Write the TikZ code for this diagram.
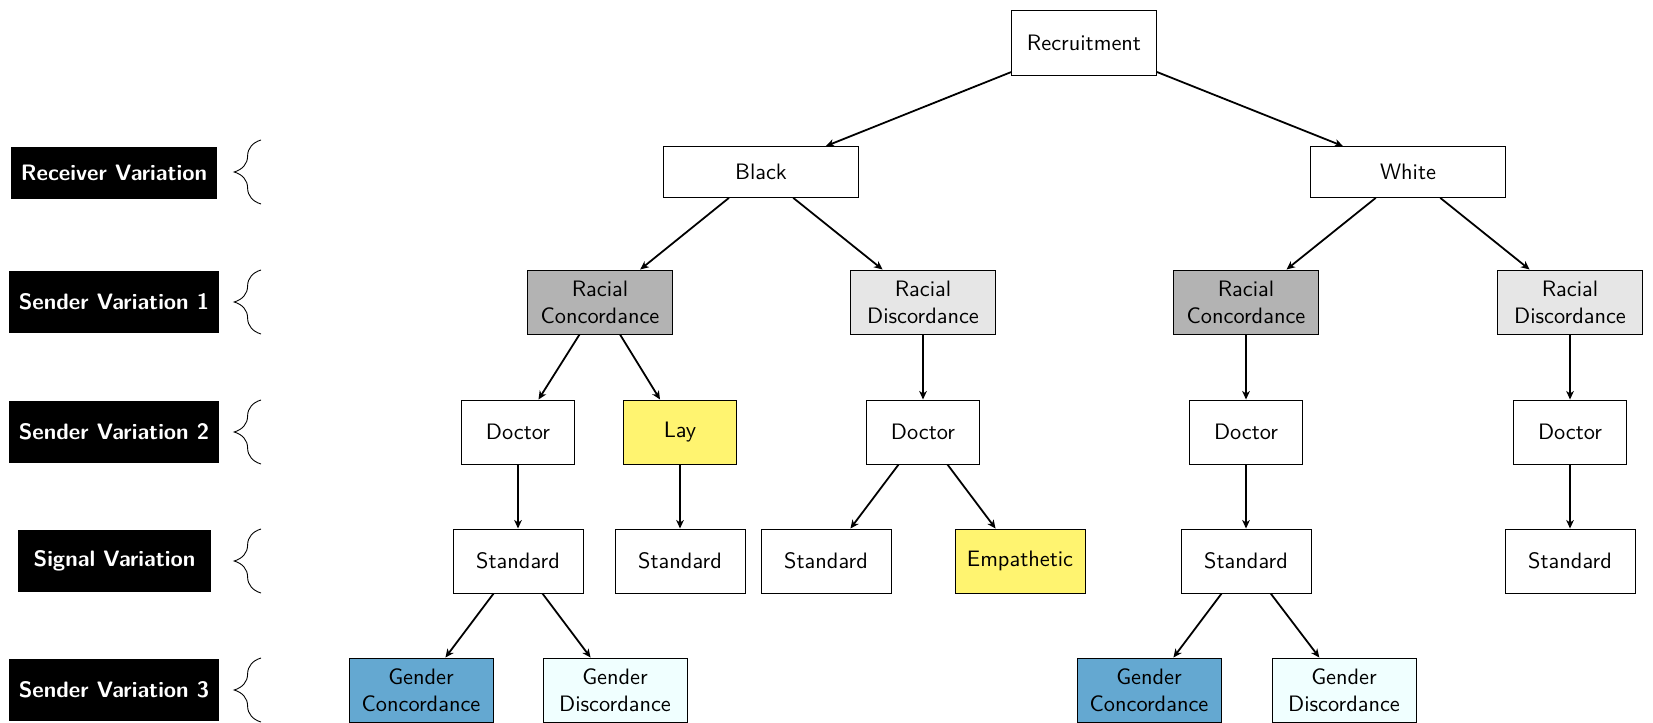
\documentclass[tikz,border=0pt]{standalone}
\usetikzlibrary{decorations.pathreplacing,arrows.meta}
\definecolor{concgray}{RGB}{179,179,179}
\definecolor{discgray}{RGB}{230,230,230}
\definecolor{hlyellow}{RGB}{255,244,112}
\definecolor{gconc}{RGB}{100,168,209}
\definecolor{gdisc}{RGB}{240,255,255}
\tikzset{
  box/.style={draw, fill=white, font=\sffamily, align=center, inner sep=1pt, minimum height=28.7pt},
  wbox/.style={box, minimum width=65pt},
  catbox/.style={box, minimum width=87pt, minimum height=22.8pt},
  docbox/.style={box, minimum width=50.6pt},
  stdbox/.style={box, minimum width=58.2pt},
  lab/.style={fill=black, text=white, font=\sffamily\bfseries, inner xsep=4.6pt, minimum height=28.2pt},
  conn/.style={-{Stealth[length=3.8pt, width=3.4pt, inset=1.1pt]}, thick},
  brc/.style={decorate, decoration={brace, amplitude=12pt}, line width=0.4pt}
}
\begin{document}
\begin{tikzpicture}[x=0.448pt, y=-0.448pt]
\useasboundingbox (0,0) rectangle (1653,723);
% tree
\node[wbox, minimum height=29pt] (rec) at (1084,43) {Recruitment};
\node[catbox] (black) at (761,172) {Black};
\node[catbox] (white) at (1408,172) {White};
\node[wbox, fill=concgray] (rc1) at (600,302) {Racial\\Concordance};
\node[wbox, fill=discgray] (rd1) at (923,302) {Racial\\Discordance};
\node[wbox, fill=concgray] (rc2) at (1246,302) {Racial\\Concordance};
\node[wbox, fill=discgray] (rd2) at (1570,302) {Racial\\Discordance};
\node[docbox] (doc1) at (518,432) {Doctor};
\node[docbox, fill=hlyellow] (lay) at (680,432) {Lay};
\node[docbox] (doc2) at (923,432) {Doctor};
\node[docbox] (doc3) at (1246,432) {Doctor};
\node[docbox] (doc4) at (1570,432) {Doctor};
\node[stdbox] (std1) at (518,561) {Standard};
\node[stdbox] (std2) at (680,561) {Standard};
\node[stdbox] (std3) at (826,561) {Standard};
\node[stdbox, fill=hlyellow] (emp) at (1020,561) {Empathetic};
\node[stdbox] (std4) at (1246,561) {Standard};
\node[stdbox] (std5) at (1570,561) {Standard};
\node[wbox, minimum width=64.5pt, fill=gconc] (gc1) at (421,690) {Gender\\Concordance};
\node[wbox, minimum width=64.5pt, fill=gdisc] (gd1) at (615,690) {Gender\\Discordance};
\node[wbox, minimum width=64.5pt, fill=gconc] (gc2) at (1149,690) {Gender\\Concordance};
\node[wbox, minimum width=64.5pt, fill=gdisc] (gd2) at (1344,690) {Gender\\Discordance};
% connectors
\draw[conn] (rec) -- (black);
\draw[conn] (rec) -- (white);
\draw[conn] (black) -- (rc1);
\draw[conn] (black) -- (rd1);
\draw[conn] (white) -- (rc2);
\draw[conn] (white) -- (rd2);
\draw[conn] (rc1) -- (doc1);
\draw[conn] (rc1) -- (lay);
\draw[conn] (rd1) -- (doc2);
\draw[conn] (rc2) -- (doc3);
\draw[conn] (rd2) -- (doc4);
\draw[conn] (doc1) -- (std1);
\draw[conn] (lay) -- (std2);
\draw[conn] (doc2) -- (std3);
\draw[conn] (doc2) -- (emp);
\draw[conn] (doc3) -- (std4);
\draw[conn] (doc4) -- (std5);
\draw[conn] (std1) -- (gc1);
\draw[conn] (std1) -- (gd1);
\draw[conn] (std4) -- (gc2);
\draw[conn] (std4) -- (gd2);
% left labels
\node[lab, minimum height=23.3pt] (l1) at (114,173) {Receiver Variation};
\node[lab] (l2) at (114,302) {Sender Variation 1};
\node[lab] (l3) at (114,432) {Sender Variation 2};
\node[lab, minimum width=86.5pt] (l4) at (114.5,561) {Signal Variation};
\node[lab] (l5) at (114,690) {Sender Variation 3};
% braces
\foreach \yy in {172,302,432,561,690}{
  \draw[brc] (261,\yy+32) -- (261,\yy-32);
}
\end{tikzpicture}
\end{document}
